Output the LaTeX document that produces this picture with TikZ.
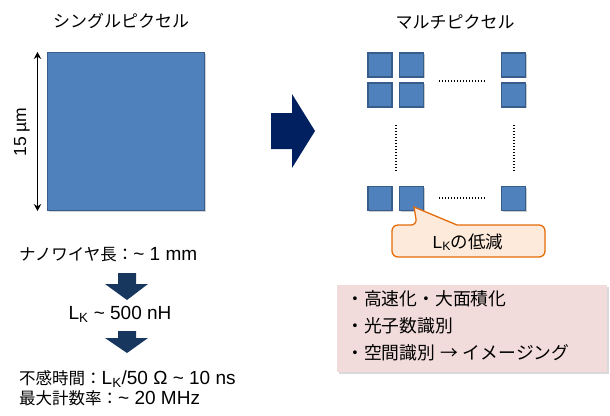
\documentclass[tikz,border=0pt]{standalone}
\usepackage{fontspec}
\setmainfont{Liberation Sans}
\newfontfamily\jp{Noto Sans CJK JP}
\newcommand\jpsm[1]{{\fontsize{16.5}{19}\selectfont\jp #1}}
\usetikzlibrary{calc,shadows,arrows.meta}
\definecolor{pixblue}{HTML}{4F81BD}
\definecolor{pixedge}{HTML}{385D8A}
\definecolor{navy}{HTML}{002060}
\definecolor{navyb}{HTML}{17375E}
\definecolor{calfill}{HTML}{FDEADA}
\definecolor{caledge}{HTML}{E46C0A}
\definecolor{pinkbox}{HTML}{F2DCDB}
\begin{document}
\begin{tikzpicture}[x=1pt,y=-1pt,
  txt/.style={inner sep=0pt,font=\fontsize{19}{21}\selectfont},
  ttl/.style={inner sep=0pt,font=\fontsize{17}{20}\selectfont\jp},
  btxt/.style={inner sep=0pt,anchor=west,font=\fontsize{17.8}{20}\selectfont\jp},
  pix/.style={draw=pixedge,line width=1.3pt,fill=pixblue,minimum size=24pt,inner sep=0pt,
    drop shadow={shadow xshift=1.3pt,shadow yshift=-1.3pt,opacity=0.4,fill=gray}},
  dotline/.style={line width=1.4pt,dash pattern=on 1.3pt off 1.7pt},
  navyarrow/.style={fill=navy,draw=none},
  downarrow/.style={fill=navyb,draw=none}]
\useasboundingbox (0,0) rectangle (610,415);
% titles
\node[ttl] (t1) at (121,21) {シングルピクセル};
\node[ttl] (t2) at (455,22) {マルチピクセル};
% single pixel
\node[draw=pixedge,line width=1pt,fill=pixblue,minimum width=157pt,minimum height=158pt,inner sep=0pt,
  drop shadow={shadow xshift=1.5pt,shadow yshift=-1.5pt,opacity=0.35,fill=gray}] (big) at (125.5,131.5) {};
\coordinate (dimtop) at ($(big.north west)+(-9,0)$);
\coordinate (dimbot) at ($(big.south west)+(-9,0)$);
\draw[line width=1.5pt,{Stealth[length=7pt,width=7.5pt]}-{Stealth[length=7pt,width=7.5pt]}] (dimtop) -- (dimbot);
\node[txt,rotate=90,font=\fontsize{17.5}{20}\selectfont] (dim) at (22,132) {15 µm};
% left text
\node[txt,anchor=west] (nw) at (19,255) {\jpsm{ナノワイヤ長：}\textasciitilde{} 1 mm};
\fill[downarrow] (118,273) -- (136,273) -- (136,284) -- (148,284) -- (127,300) -- (105,284) -- (118,284) -- cycle;
\node[txt] (lk) at (120,314) {L\textsubscript{K} \textasciitilde{} 500 nH};
\fill[downarrow] (118,331) -- (136,331) -- (136,338) -- (148,338) -- (127,353) -- (105,338) -- (118,338) -- cycle;
\node[txt,anchor=west] (dead) at (19,379) {\jpsm{不感時間：}L\textsubscript{K}/50 Ω \textasciitilde{} 10 ns};
\node[txt,anchor=west] (rate) at (19,398) {\jpsm{最大計数率：}\textasciitilde{} 20 MHz};
% big right arrow
\fill[navyarrow] (271,113) -- (292,113) -- (292,94) -- (315,131) -- (292,168) -- (292,149) -- (271,149) -- cycle;
% multi pixel
\node[pix] (s11) at (380,65) {};
\node[pix] (s12) at (411.5,65) {};
\node[pix] (s13) at (513.5,65) {};
\node[pix] (s21) at (380,95) {};
\node[pix] (s22) at (411.5,95) {};
\node[pix] (s23) at (513.5,95) {};
\node[pix] (s31) at (380,198.5) {};
\node[pix] (s32) at (411.5,198.5) {};
\node[pix] (s33) at (513.5,198.5) {};
\draw[dotline] (439,81) -- (486,81);
\draw[dotline] (439,198) -- (486,198);
\draw[dotline] (396,125) -- (396,172);
\draw[dotline] (514,125) -- (514,172);
% callout
\draw[draw=caledge,fill=calfill,line width=1.3pt,rounded corners=6pt]
  (392,241) -- (392,225) -- (417,225) [sharp corners] -- (414,207) -- (457,225) [rounded corners=6pt]
  -- (545,225) -- (545,257) -- (392,257) -- cycle;
\node[txt,font=\fontsize{17.5}{20}\selectfont] (cal) at (468,242) {L\textsubscript{K}{\jp の低減}};
% pink box
\node[fill=pinkbox,minimum width=270pt,minimum height=87pt,inner sep=0pt,
  drop shadow={shadow xshift=1.5pt,shadow yshift=-1.5pt,opacity=0.3,fill=gray}] (pb) at (472,328.5) {};
\node[btxt] (b1) at (346,299) {・高速化・大面積化};
\node[btxt] (b2) at (346,326) {・光子数識別};
\node[btxt] (b3) at (346,353) {・空間識別\hspace{5pt}→\hspace{5pt}イメージング};
\end{tikzpicture}
\end{document}
